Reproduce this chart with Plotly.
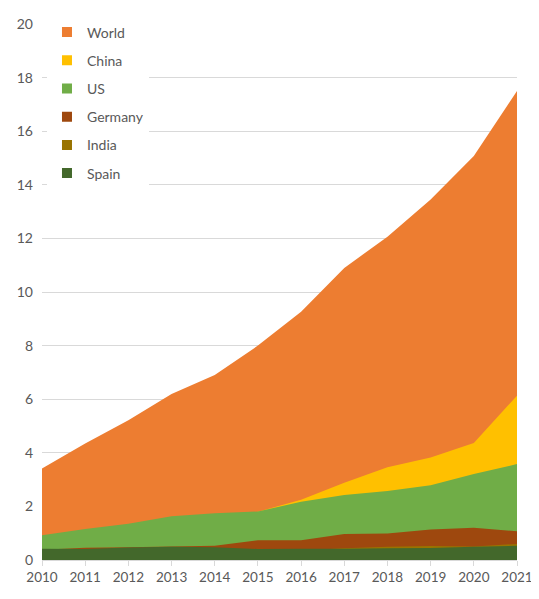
import plotly.graph_objects as go

# %% data
years = list(range(2010, 2022))

world = [3.41, 4.35, 5.21, 6.19, 6.9, 8.0, 9.26, 10.9, 12.06, 13.45, 15.07, 17.5]
china = [0.3, 0.5, 0.7, 0.9, 1.2, 1.8, 2.25, 2.88, 3.46, 3.82, 4.37, 6.13]
us = [0.92, 1.16, 1.35, 1.63, 1.74, 1.81, 2.17, 2.43, 2.57, 2.79, 3.21, 3.58]
germany = [0.38, 0.46, 0.48, 0.50, 0.53, 0.74, 0.74, 0.97, 0.99, 1.14, 1.2, 1.07]
india = [0.05, 0.08, 0.1, 0.15, 0.2, 0.25, 0.35, 0.44, 0.49, 0.52, 0.50, 0.60]
spain = [0.42, 0.41, 0.47, 0.49, 0.48, 0.41, 0.42, 0.42, 0.44, 0.45, 0.49, 0.53]

series = [
    ('World', world, '#ED7D31'),
    ('China', china, '#FFC000'),
    ('US', us, '#70AD47'),
    ('Germany', germany, '#9E480E'),
    ('India', india, '#997300'),
    ('Spain', spain, '#43682B'),
]

# %% overlapping areas, each filled from zero
fig = go.Figure()
for name, vals, col in series:
    fig.add_trace(go.Scatter(
        x=years,
        y=vals,
        name=name,
        showlegend=False,
        mode='none',
        fill='tozeroy',
        fillcolor=col))

# square legend keys, like the office-style chart
for name, vals, col in series:
    fig.add_trace(go.Scatter(
        x=[None],
        y=[None],
        name=name,
        legendgroup=name,
        mode='markers',
        marker=dict(symbol='square', size=10, color=col)))

# page body has an 8px default margin, so the figure is 8px smaller
fig.update_layout(
    width=531,
    height=591,
    margin=dict(l=34, r=22, t=8, b=39),
    plot_bgcolor='white',
    paper_bgcolor='white',
    font=dict(family='Lato', size=14, color='#595959'),
    showlegend=True,
    legend=dict(
        x=0.0105, y=1.014,
        xanchor='left', yanchor='top',
        bgcolor='white',
        tracegroupgap=7,
        itemwidth=30,
        font=dict(size=14, color='#595959')),
)

fig.update_xaxes(
    range=[2010, 2021],
    tickmode='array',
    tickvals=years,
    ticks='outside',
    ticklen=5,
    tickcolor='#D9D9D9',
    tickfont=dict(size=13.5),
    showline=True,
    linecolor='#D9D9D9',
    showgrid=False,
    zeroline=False,
    automargin=False)

fig.update_yaxes(
    range=[0, 20],
    dtick=2,
    showgrid=True,
    gridcolor='#D9D9D9',
    zeroline=False,
    ticklabelstandoff=8,
    automargin=False)

fig.write_html("out.html")
